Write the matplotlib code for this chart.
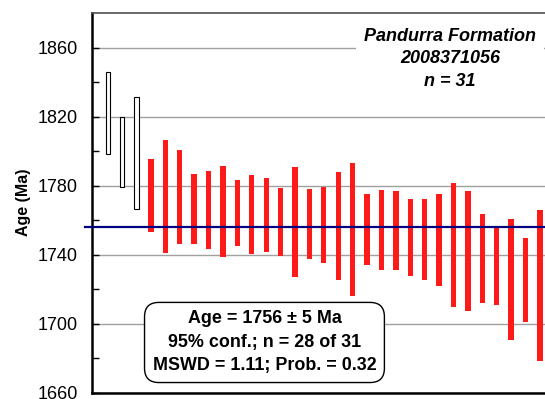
import numpy as np
import matplotlib
matplotlib.use('Agg')
import matplotlib.pyplot as plt

plt.rcParams['font.family'] = ['Liberation Sans', 'DejaVu Sans']

# 95% confidence limits for each analysis (Ma), in plotting order
upper = [1845.6, 1819.6, 1831.2,
         1795.5, 1806.5, 1800.3, 1786.4, 1788.2, 1791.1, 1783.4, 1786.3, 1784.5,
         1778.5, 1790.7, 1777.8, 1778.9, 1787.6, 1793.2, 1775.1, 1777.4, 1777.0,
         1772.0, 1772.4, 1775.3, 1781.2, 1777.0, 1763.5, 1755.8, 1760.6, 1749.6,
         1766.0]
lower = [1798.0, 1779.1, 1766.6,
         1753.0, 1740.9, 1746.3, 1745.9, 1743.4, 1738.6, 1745.0, 1740.2, 1741.5,
         1739.2, 1726.7, 1737.4, 1735.3, 1725.1, 1715.7, 1733.8, 1731.1, 1731.3,
         1727.6, 1725.1, 1722.0, 1709.3, 1707.2, 1711.6, 1710.8, 1690.4, 1701.0,
         1678.4]
rejected = [True, True, True] + [False] * 28

mean_age = 1756
mean_err = 5
n_used, n_total = 28, 31
mswd, prob = 1.11, 0.32
sample_name = 'Pandurra Formation'
sample_id = '2008371056'

upper = np.array(upper)
lower = np.array(lower)
rejected = np.array(rejected)
x = np.arange(1, len(upper) + 1)

fig = plt.figure(figsize=(5.45, 3.99), dpi=100)
ax = fig.add_axes([92 / 545, 6.5 / 399, 453 / 545, 379.5 / 399])

ax.set_ylim(1660, 1880)
ax.set_xlim(-0.09, 31.35)

ax.set_yticks(np.arange(1660, 1861, 40))
ax.set_yticks(np.arange(1680, 1880, 40), minor=True)
ax.set_xticks([])
ax.tick_params(axis='y', which='both', direction='in', length=5, width=1,
               labelsize=13, pad=10)
ax.yaxis.grid(True, which='major', color='#a0a0a0', linewidth=1)
ax.set_axisbelow(True)

ax.spines['left'].set_linewidth(1.8)
ax.spines['bottom'].set_linewidth(1.8)
ax.spines['top'].set_linewidth(1.2)
ax.spines['top'].set_color('#505050')
ax.spines['right'].set_visible(False)

ax.set_ylabel('Age (Ma)', fontsize=11.5, fontweight='bold', labelpad=5)

# rejected analyses as open boxes, accepted ones as solid red bars
ax.bar(x[rejected], (upper - lower)[rejected], bottom=lower[rejected],
       width=0.3, color='white', edgecolor='black', linewidth=0.8, zorder=3)
ax.bar(x[~rejected], (upper - lower)[~rejected], bottom=lower[~rejected],
       width=0.37, color='#ff1a1a', linewidth=0, zorder=3)

ax.axhline(mean_age, xmin=-0.016, xmax=1, color='#000080', linewidth=1.6,
           clip_on=False, zorder=4)

ax.text(0.79, 0.879, f'{sample_name}\n{sample_id}\nn = {n_total}',
        transform=ax.transAxes, ha='center', va='center', fontsize=13,
        fontweight='bold', style='italic', linespacing=1.42, zorder=5,
        bbox=dict(boxstyle='square,pad=0.45', facecolor='white', edgecolor='none'))

stats = (f'Age = {mean_age} \u00b1 {mean_err} Ma\n'
         f'95% conf.; n = {n_used} of {n_total}\n'
         f'MSWD = {mswd:.2f}; Prob. = {prob:.2f}')
ax.text(11.88, 1689.0, stats, ha='center', va='center', fontsize=12.9,
        fontweight='bold', linespacing=1.5, zorder=5,
        bbox=dict(boxstyle='round,pad=0.45,rounding_size=0.8', facecolor='white',
                  edgecolor='black', linewidth=1))

fig.savefig('out.png', dpi=100)
